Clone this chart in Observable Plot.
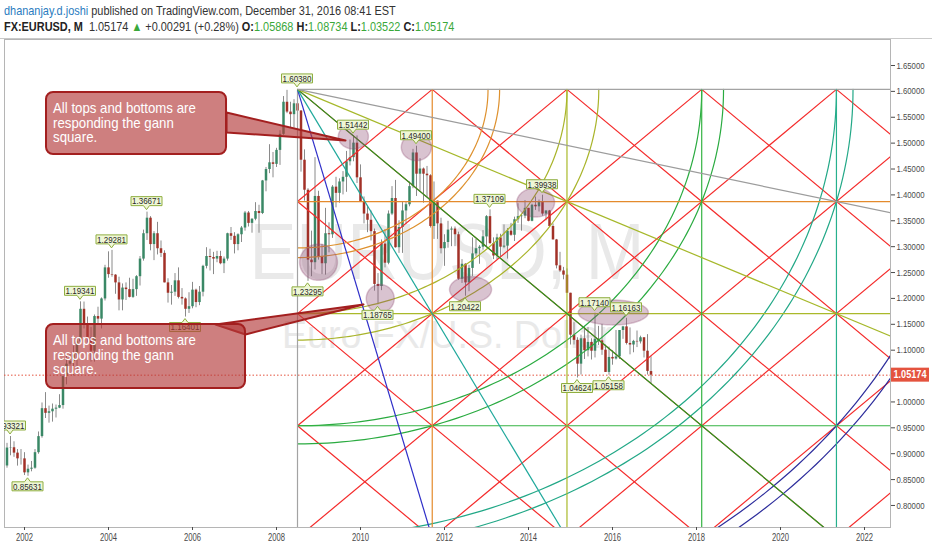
<!DOCTYPE html>
<html><head><meta charset="utf-8">
<script src="https://cdn.jsdelivr.net/npm/d3@7"></script>
<script src="https://cdn.jsdelivr.net/npm/@observablehq/plot@0.6"></script>
<style>
html,body{margin:0;padding:0;background:#fff;}
#wrap{position:relative;width:932px;height:550px;overflow:hidden;}
#chart{position:absolute;left:0;top:0;}
#hdr{position:absolute;left:0;top:0;width:932px;height:38px;border-bottom:1px solid #c9c9c9;font-family:"Liberation Sans",Arial,sans-serif;font-size:13px;color:#333;background:#fff;}
#hdr .l1,#hdr .l2{position:absolute;left:4px;white-space:nowrap;transform:scaleX(0.84);transform-origin:0 0;}
#hdr .l1{top:3px;}
#hdr .l2{top:19px;}
#hdr .u{color:#2a7cc0;}
#hdr .g{color:#3aa83a;}
#hdr b{font-weight:bold;color:#222;}
</style></head>
<body>
<div id="wrap">
  <div id="chart"></div>
  <div id="hdr">
    <div class="l1"><span class="u">dhananjay.d.joshi</span> published on TradingView.com, December 31, 2016 08:41 EST</div>
    <div class="l2"><b>FX:EURUSD, M</b>&nbsp; 1.05174 <span class="g">▲</span> +0.00291 (+0.28%) <b>O:</b><span class="g">1.05868</span> <b>H:</b><span class="g">1.08734</span> <b>L:</b><span class="g">1.03522</span> <b>C:</b><span class="g">1.05174</span></div>
  </div>
</div>
<script>
// ---------- monthly candles, FX:EURUSD, from Aug 2001 ----------
const firstYear = 2001, firstMonthIndex = 7; // August
const open = [
 0.8763,0.9109,0.9115,0.9011,0.8901,
 0.8900,0.8630,0.8700,0.8720,0.9020,0.9330,0.9870,0.9780,0.9810,0.9860,0.9880,0.9930,
 1.0490,1.0730,1.0780,1.0910,1.1160,1.1790,1.1500,1.1240,1.0980,1.1650,1.1600,1.1990,
 1.2590,1.2460,1.2450,1.2300,1.1970,1.2200,1.2170,1.2020,1.2170,1.2420,1.2760,1.3250,
 1.3550,1.3040,1.3250,1.2960,1.2870,1.2300,1.2100,1.2120,1.2340,1.2020,1.1990,1.1790,
 1.1840,1.2160,1.1920,1.2120,1.2620,1.2810,1.2790,1.2760,1.2810,1.2670,1.2760,1.3250,
 1.3200,1.3040,1.3230,1.3360,1.3650,1.3450,1.3530,1.3680,1.3640,1.4270,1.4490,1.4620,
 1.4590,1.4860,1.5170,1.5790,1.5600,1.5550,1.5760,1.5620,1.4670,1.4090,1.2740,1.2690,
 1.3970,1.2800,1.2670,1.3250,1.3230,1.4150,1.4030,1.4250,1.4340,1.4640,1.4720,1.5000,
 1.4330,1.3870,1.3630,1.3510,1.3290,1.2270,1.2230,1.3050,1.2680,1.3630,1.3930,1.2980,
 1.3370,1.3690,1.3810,1.4160,1.4810,1.4400,1.4500,1.4400,1.4370,1.3390,1.3880,1.3440,
 1.2960,1.3080,1.3320,1.3340,1.3230,1.2370,1.2660,1.2300,1.2580,1.2860,1.2960,1.2990,
 1.3190,1.3580,1.3060,1.2820,1.3170,1.2990,1.3010,1.3300,1.3220,1.3520,1.3580,1.3590,
 1.3740,1.3490,1.3800,1.3770,1.3870,1.3630,1.3690,1.3390,1.3130,1.2630,1.2530,1.2450,
 1.2100,1.1290,1.1190,1.0730,1.1220,1.0990,1.1150,1.0980,1.1210,1.1180,1.1000,1.0570,
 1.0860,1.0830,1.0870,1.1380,1.1450,1.1130,1.1100,1.1170,1.1160,1.1240,1.0980,1.05868];
const high = [
 0.9200,0.93321,0.9230,0.9080,0.9080,
 0.9020,0.8780,0.8850,0.9080,0.9420,0.9980,1.0180,0.9920,0.9960,0.9940,1.0140,1.0500,
 1.0880,1.0940,1.1080,1.1230,1.19341,1.1930,1.1640,1.1440,1.1680,1.1830,1.2010,1.2640,
 1.2900,1.29281,1.2460,1.2410,1.2280,1.2300,1.2390,1.2370,1.2440,1.2810,1.3320,1.36671,
 1.3580,1.3290,1.3470,1.3110,1.2920,1.2380,1.2250,1.2480,1.2590,1.2190,1.2010,1.2110,
 1.2310,1.2180,1.2230,1.2640,1.2980,1.2950,1.2890,1.2910,1.2910,1.2800,1.3260,1.3370,
 1.3270,1.3250,1.3390,1.3680,1.3680,1.3540,1.3850,1.3800,1.4280,1.4530,1.4970,1.4820,
 1.4900,1.5240,1.5900,1.6020,1.5790,1.5840,1.60380,1.5630,1.4870,1.4120,1.3300,1.4720,
 1.4070,1.3040,1.3740,1.3460,1.4180,1.4340,1.4310,1.4450,1.4840,1.5060,1.51442,1.5140,
 1.4580,1.3960,1.3790,1.3690,1.3340,1.2480,1.3130,1.3330,1.3690,1.4160,1.4280,1.3500,
 1.3860,1.3860,1.4250,1.4880,1.49400,1.4700,1.4520,1.4550,1.4390,1.4250,1.3880,1.3550,
 1.3230,1.3490,1.3380,1.3380,1.3280,1.2750,1.2670,1.2640,1.3170,1.3140,1.3020,1.3310,
 1.3600,1.37109,1.3170,1.3240,1.3240,1.3420,1.3350,1.3450,1.3570,1.3830,1.3620,1.3890,
 1.3740,1.3820,1.3960,1.3900,1.39938,1.3690,1.3700,1.3440,1.3140,1.2890,1.2600,1.2570,
 1.2100,1.1530,1.1240,1.1290,1.1460,1.1440,1.1220,1.17140,1.1460,1.1500,1.1100,1.1060,
 1.0990,1.1380,1.1380,1.1460,1.16163,1.1430,1.1190,1.1370,1.1270,1.1240,1.1300,1.08734];
const low = [
 0.8720,0.8960,0.8930,0.8760,0.8780,
 0.8578,0.85631,0.8650,0.8700,0.8990,0.9300,0.9680,0.9590,0.9610,0.9690,0.9870,0.9860,
 1.0330,1.0690,1.0500,1.0620,1.1150,1.1410,1.1140,1.0770,1.0770,1.1500,1.1410,1.1950,
 1.2390,1.2410,1.2080,1.1760,1.1760,1.1960,1.2010,1.2000,1.2040,1.2240,1.2720,1.3120,
 1.2920,1.2730,1.2840,1.2790,1.2300,1.1910,1.1870,1.2040,1.1990,1.1870,1.16401,1.1710,
 1.1800,1.1820,1.1860,1.2030,1.2570,1.2530,1.2460,1.2690,1.2650,1.2480,1.2720,1.3120,
 1.2860,1.2920,1.3080,1.3300,1.3380,1.3260,1.3500,1.3260,1.3620,1.4060,1.4410,1.4330,
 1.4530,1.4570,1.5150,1.5570,1.5280,1.5290,1.5530,1.4440,1.3880,1.23295,1.2420,1.2550,
 1.2740,1.2460,1.2450,1.2880,1.3160,1.3750,1.3840,1.4000,1.4050,1.4560,1.4640,1.4220,
 1.3860,1.3440,1.3270,1.3110,1.2140,1.18765,1.2150,1.2590,1.2650,1.3600,1.2970,1.2870,
 1.2870,1.3430,1.3770,1.4120,1.3970,1.4070,1.3840,1.3950,1.3360,1.3140,1.3140,1.2860,
 1.2620,1.2970,1.3000,1.3000,1.2350,1.2290,1.20422,1.2130,1.2420,1.2800,1.2660,1.2930,
 1.3000,1.3040,1.2750,1.2750,1.2800,1.2960,1.2760,1.3200,1.3100,1.3450,1.3300,1.3540,
 1.3480,1.3480,1.3700,1.3670,1.3590,1.3500,1.3370,1.3130,1.2570,1.2500,1.2360,1.2100,
 1.1100,1.1100,1.04624,1.0520,1.0820,1.0870,1.0810,1.0850,1.1090,1.0900,1.0570,1.05158,
 1.0710,1.0810,1.0820,1.1210,1.1100,1.0910,1.0950,1.1050,1.1120,1.0850,1.0520,1.03522];
const close = [
 0.9109,0.9115,0.9011,0.8901,0.8900,
 0.8630,0.8700,0.8720,0.9020,0.9330,0.9870,0.9780,0.9810,0.9860,0.9880,0.9930,1.0490,
 1.0730,1.0780,1.0910,1.1160,1.1790,1.1500,1.1240,1.0980,1.1650,1.1600,1.1990,1.2590,
 1.2460,1.2450,1.2300,1.1970,1.2200,1.2170,1.2020,1.2170,1.2420,1.2760,1.3250,1.3550,
 1.3040,1.3250,1.2960,1.2870,1.2300,1.2100,1.2120,1.2340,1.2020,1.1990,1.1790,1.1840,
 1.2160,1.1920,1.2120,1.2620,1.2810,1.2790,1.2760,1.2810,1.2670,1.2760,1.3250,1.3200,
 1.3040,1.3230,1.3360,1.3650,1.3450,1.3530,1.3680,1.3640,1.4270,1.4490,1.4620,1.4590,
 1.4860,1.5170,1.5790,1.5600,1.5550,1.5760,1.5620,1.4670,1.4090,1.2740,1.2690,1.3970,
 1.2800,1.2670,1.3250,1.3230,1.4150,1.4030,1.4250,1.4340,1.4640,1.4720,1.5000,1.4330,
 1.3870,1.3630,1.3510,1.3290,1.2270,1.2230,1.3050,1.2680,1.3630,1.3930,1.2980,1.3370,
 1.3690,1.3810,1.4160,1.4810,1.4400,1.4500,1.4400,1.4370,1.3390,1.3880,1.3440,1.2960,
 1.3080,1.3320,1.3340,1.3230,1.2370,1.2660,1.2300,1.2580,1.2860,1.2960,1.2990,1.3190,
 1.3580,1.3060,1.2820,1.3170,1.2990,1.3010,1.3300,1.3220,1.3520,1.3580,1.3590,1.3740,
 1.3490,1.3800,1.3770,1.3870,1.3630,1.3690,1.3390,1.3130,1.2630,1.2530,1.2450,1.2100,
 1.1290,1.1190,1.0730,1.1220,1.0990,1.1150,1.0980,1.1210,1.1180,1.1000,1.0570,1.0860,
 1.0830,1.0870,1.1380,1.1450,1.1130,1.1100,1.1170,1.1160,1.1240,1.0980,1.0590,1.05174];

// ---------- price tags shown on the chart ----------
const tagMonths = ["2001-09","2002-02","2003-05","2004-02","2004-12","2005-11","2008-07","2008-10","2009-11","2010-06","2011-05","2012-07","2013-02","2014-05","2015-03","2015-08","2015-12","2016-05"];
const tagPrices = [0.93321,0.85631,1.19341,1.29281,1.36671,1.16401,1.60380,1.23295,1.51442,1.18765,1.49400,1.20422,1.37109,1.39938,1.04624,1.17140,1.05158,1.16163];
const tagSides  = ["high","low","high","high","high","low","high","low","high","low","high","low","high","high","low","high","low","high"];

// ---------- highlighted turning points (centre year, centre price, half-width in months, half-height in price) ----------
const markYears   = [2009.00, 2009.83, 2011.33, 2010.47, 2012.62, 2014.17, 2016.02];
const markPrices  = [1.2700, 1.5128, 1.4922, 1.1998, 1.2172, 1.3853, 1.1728];
const markHalfW   = [5.4, 4.3, 4.3, 4.0, 6.0, 5.4, 10.0];
const markHalfH   = [0.035, 0.024, 0.026, 0.027, 0.025, 0.028, 0.024];

// ---------- Gann square ----------
const gannOrigin = [2008.5, 1.6038];   // July 2008 top
const gannCell   = [3.208, 0.2166];    // years, price per square
const fanRatios  = [4, 2, 1, 0.5, 0.25];
const arcRadii   = [1.414, 1.5, 2, 2.236, 3, 3.162, 4, 4.123, 5, 5.099];
const levelSteps = [0, 1, 2, 3, 4];

// ---------- callouts ----------
const calloutLines = ["All tops and bottoms are", "responding the gann", "square."];
const calloutBoxes = [[2002.524, 1.5978, 2006.810, 1.4780], [2002.524, 1.1496, 2007.262, 1.0260]];
const calloutPointers = [
  [[2006.810, 1.5592], [2009.643, 1.5051], [2006.810, 1.5206]],
  [[2006.548, 1.1496], [2010.071, 1.1883], [2007.262, 1.1303]]
];

// ---------- axes ----------
const xTicks = [2002,2004,2006,2008,2010,2012,2014,2016,2018,2020,2022];
const yTicks = [0.80,0.85,0.90,0.95,1.00,1.10,1.15,1.20,1.25,1.30,1.35,1.40,1.45,1.50,1.55,1.60,1.65];

// ---------- styles ----------
const fanColors   = ["#2f2fc8", "#1ea89b", "#1f9f22", "#a6b82a", "#9c9c9c"];
const arcColors   = ["#de912e","#de912e","#a9b42a","#a9b42a","#2aab40","#2aab40","#22a887","#22a887","#2d2d9c","#2d2d9c"];
const levelColors = ["#a3a3a3","#e48a2c","#aab92a","#34b343","#27b08d"];
const latticeColor = "#f42a2a";
const upColor = "#3a8866", downColor = "#a23127", wickColor = "#8a8a8a";
const sans = '"Liberation Sans",Arial,sans-serif';
const squeeze = 0.87;

// ---------- derived tables ----------
const toYear = s => +s.slice(0,4) + (+s.slice(5,7) - 1) / 12;
const candles = open.map((o, i) => ({
  t: firstYear + (firstMonthIndex + i) / 12, o, h: high[i], l: low[i], c: close[i]
}));
const lastClose = close[close.length - 1];
const G = (u, v) => [gannOrigin[0] + u * gannCell[0], gannOrigin[1] - v * gannCell[1]];

const lattice = [];
for (let n = -6; n <= 6; n++) {
  const a = G(Math.max(0, n), Math.max(0, -n)), b = G(Math.max(0, n) + 9, Math.max(0, -n) + 9);
  lattice.push({x1: a[0], y1: a[1], x2: b[0], y2: b[1]});
}
for (let n = 1; n <= 12; n++) {
  const a = G(0, n), b = G(n, 0);
  lattice.push({x1: a[0], y1: a[1], x2: b[0], y2: b[1]});
}
const fans = fanRatios.map((k, i) => {
  const a = G(0, 0), b = G(12 / Math.max(k, 1), 12 * k / Math.max(k, 1));
  return {x1: a[0], y1: a[1], x2: b[0], y2: b[1], color: fanColors[i]};
});
const hLevels = levelSteps.map((j, i) => { const a = G(0, j), b = G(8, j); return {x1:a[0], y1:a[1], x2:b[0], y2:b[1], color: levelColors[i]}; });
const vLevels = levelSteps.map((j, i) => { const a = G(j, 0), b = G(j, 8); return {x1:a[0], y1:a[1], x2:b[0], y2:b[1], color: levelColors[i]}; });
const arcs = [];
arcRadii.forEach((r, i) => {
  for (let s = 0; s <= 90; s++) {
    const th = s * Math.PI / 180;
    const p = G(r * Math.cos(th), r * Math.sin(th));
    arcs.push({id: i, x: p[0], y: p[1], color: arcColors[i]});
  }
});
const marks = [];
markYears.forEach((cx, i) => {
  for (let s = 0; s < 72; s++) {
    const th = s * 2 * Math.PI / 72;
    marks.push({id: i, x: cx + markHalfW[i] / 12 * Math.cos(th), y: markPrices[i] + markHalfH[i] * Math.sin(th)});
  }
});
const pointerPts = [];
calloutPointers.forEach((tri, i) => tri.forEach(p => pointerPts.push({id: i, x: p[0], y: p[1]})));
const boxes = calloutBoxes.map(b => ({x1: b[0], y1: b[1], x2: b[2], y2: b[3]}));
const tags = tagMonths.map((m, i) => ({t: toYear(m), p: tagPrices[i], side: tagSides[i]}));

// ---------- custom drawn pieces (through Plot's scales) ----------
function watermark(index, scales, values, dims) {
  const g = d3.create("svg:g");
  const cx = (dims.marginLeft + dims.width - dims.marginRight) / 2;
  const cy = (dims.marginTop + dims.height - dims.marginBottom) / 2;
  g.append("text").attr("x", cx).attr("y", cy - 4).attr("text-anchor", "middle")
    .attr("font-family", sans).attr("font-size", 79).attr("fill", "#e9e9e9")
    .attr("textLength", 395).attr("lengthAdjust", "spacingAndGlyphs").text("EURUSD, M");
  g.append("text").attr("x", cx).attr("y", cy + 65).attr("text-anchor", "middle")
    .attr("font-family", sans).attr("font-size", 38).attr("fill", "#e9e9e9")
    .attr("textLength", 330).attr("lengthAdjust", "spacingAndGlyphs")
    .text("Euro FX/U.S. Dollar");
  return g.node();
}
function priceTags(index, scales, values, dims) {
  const {x, y} = scales;
  const g = d3.create("svg:g");
  const id = "paneclip";
  g.append("clipPath").attr("id", id).append("rect")
    .attr("x", dims.marginLeft).attr("y", dims.marginTop)
    .attr("width", dims.width - dims.marginLeft - dims.marginRight)
    .attr("height", dims.height - dims.marginTop - dims.marginBottom);
  const inner = g.append("g").attr("clip-path", `url(#${id})`);
  for (const d of tags) {
    const px = x(d.t), py = y(d.p);
    const up = d.side === "high";
    const cy = up ? py - 10.5 : py + 10.5;
    const x0 = px - 15.5, x1 = px + 15.5, y0 = cy - 4.5, y1 = cy + 4.5;
    const path = up
      ? `M${x0},${y0}H${x1}V${y1}H${px+3}L${px},${y1+4}L${px-3},${y1}H${x0}Z`
      : `M${x0},${y0}H${px-3}L${px},${y0-4}L${px+3},${y0}H${x1}V${y1}H${x0}Z`;
    inner.append("path").attr("d", path).attr("fill", "#eff7d6").attr("stroke", "#8fae40").attr("stroke-width", 1);
    inner.append("text").attr("transform", `translate(${px},${cy + 3.3}) scale(${squeeze},1)`)
      .attr("text-anchor", "middle").attr("font-family", sans).attr("font-size", 9.2).attr("fill", "#2a2a2a").text(d.p.toFixed(5));
  }
  return g.node();
}
function calloutText(index, scales, values, dims) {
  const {x, y} = scales;
  const g = d3.create("svg:g").attr("text-anchor", "start");
  for (const b of calloutBoxes) {
    const left = x(b[0]) + 7, top = y(b[1]);
    calloutLines.forEach((line, k) => {
      g.append("text").attr("transform", `translate(${left},${top + 21 + k * 14.5}) scale(0.92,1)`)
        .attr("text-anchor", "start").attr("font-family", sans).attr("font-size", 14.4).attr("fill", "#fff").text(line);
    });
  }
  return g.node();
}
function lastBadge(index, scales, values, dims) {
  const {y} = scales;
  const g = d3.create("svg:g");
  const yy = y(lastClose), xr = dims.width - dims.marginRight;
  g.append("rect").attr("x", xr + 1).attr("y", yy - 7).attr("width", 38).attr("height", 14).attr("fill", "#e4533e");
  g.append("text").attr("transform", `translate(${xr + 20},${yy + 3.6}) scale(${squeeze},1)`).attr("text-anchor", "middle")
    .attr("font-family", sans).attr("font-size", 10.5).attr("font-weight", "bold").attr("fill", "#fff").text(lastClose.toFixed(5));
  return g.node();
}

const X0 = 2002 - 20 / 42, X1 = 2002 + 866 / 42;
const Y0 = 1.65 - (527 - 65) / 517.6, Y1 = 1.65 + (65 - 39) / 517.6;

const linkMarks = [];
for (const d of [...hLevels, ...vLevels]) linkMarks.push(Plot.link([d], {x1:"x1", y1:"y1", x2:"x2", y2:"y2", stroke: d.color, strokeWidth: 1.2, clip: true}));

const plot = Plot.plot({
  width: 932, height: 550,
  marginTop: 39, marginBottom: 23, marginLeft: 4, marginRight: 42,
  x: {domain: [X0, X1]},
  y: {domain: [Y0, Y1]},
  color: {type: "identity"},
  style: {fontFamily: sans, fontSize: "10px", color: "#4a4a4a", background: "#fff", overflow: "hidden"},
  marks: [
    watermark,
    Plot.frame({stroke: "#b5b5b5"}),
    // candles
    Plot.ruleX(candles, {x: "t", y1: "l", y2: "h", stroke: wickColor, strokeWidth: 1}),
    Plot.ruleX(candles, {x: "t", y1: "o", y2: d => d.c === d.o ? d.c + 0.002 : d.c, stroke: d => d.c >= d.o ? upColor : downColor, strokeWidth: 2.5}),
    Plot.ruleY([lastClose], {stroke: "#e4533e", strokeDasharray: "1.5,2", strokeWidth: 1}),
    // Gann square
    Plot.link(lattice, {x1:"x1", y1:"y1", x2:"x2", y2:"y2", stroke: latticeColor, strokeWidth: 1.2, clip: true}),
    Plot.line(arcs, {x: "x", y: "y", z: "id", stroke: "color", strokeWidth: 1.2, clip: true}),
    ...linkMarks,
    Plot.link(fans, {x1:"x1", y1:"y1", x2:"x2", y2:"y2", stroke: "color", strokeWidth: 1.2, clip: true}),
    // highlights
    Plot.line(marks, {x: "x", y: "y", z: "id", curve: "linear-closed", fill: "#8d4a70", fillOpacity: 0.33, stroke: "#8d4a70", strokeOpacity: 0.3}),
    priceTags,
    // callouts
    Plot.line(pointerPts, {x: "x", y: "y", z: "id", curve: "linear-closed", fill: "#b43a3a", fillOpacity: 0.65, stroke: "#a31f1f", strokeWidth: 2}),
    Plot.rect(boxes, {x1: "x1", y1: "y1", x2: "x2", y2: "y2", rx: 7, fill: "#b43a3a", fillOpacity: 0.65, stroke: "#a31f1f", strokeWidth: 2}),
    calloutText,
    Plot.axisX({ticks: xTicks, tickFormat: d => String(d), tickSize: 3, tickPadding: 3, fontSize: 10}),
    Plot.axisY({anchor: "right", ticks: yTicks, tickFormat: d3.format(".5f"), tickSize: 4, tickPadding: 2, fontSize: 9.5}),
    lastBadge
  ]
});
// narrow the axis numbers like the reference
d3.select(plot).selectAll('g[aria-label="y-axis tick label"] text').attr("textLength", 28).attr("lengthAdjust", "spacingAndGlyphs");
d3.select(plot).selectAll('g[aria-label="x-axis tick label"] text').attr("textLength", 17).attr("lengthAdjust", "spacingAndGlyphs");
document.getElementById("chart").appendChild(plot);
</script>
</body></html>
